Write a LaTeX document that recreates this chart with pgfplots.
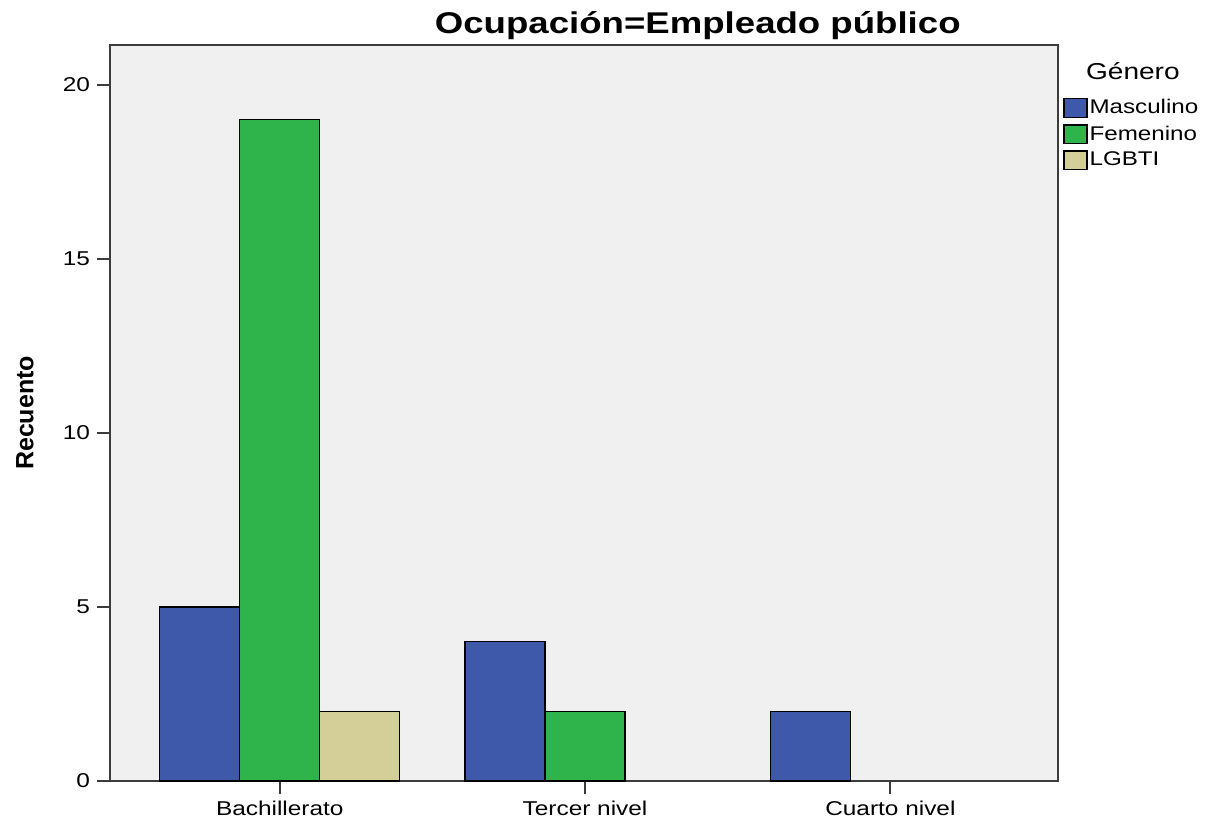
\documentclass[border=0pt]{standalone}
\usepackage{fontspec}
\setmainfont{Liberation Sans}[FakeStretch=1.22]
\newfontfamily\plainsans{Liberation Sans}
\usepackage{pgfplots}
\pgfplotsset{compat=1.18}
\definecolor{masc}{RGB}{62,88,170}
\definecolor{fem}{RGB}{46,180,74}
\definecolor{lgbt}{RGB}{212,206,152}
\definecolor{bg}{RGB}{240,240,240}
\definecolor{frame}{RGB}{60,60,60}
\begin{document}
\begin{tikzpicture}
\path[use as bounding box] (0,0) rectangle (610.5pt,411.5pt);
\begin{axis}[
  at={(55pt,21pt)}, anchor=south west,
  width=474pt, height=368pt, scale only axis,
  clip=false,
  xmin=-0.556, xmax=2.549, ymin=0, ymax=21.15,
  axis background/.style={fill=bg},
  axis line style={frame, line width=0.9pt},
  xtick={0,1,2}, xticklabels={Bachillerato,Tercer nivel,Cuarto nivel},
  ytick={0,5,10,15,20},
  xtick pos=bottom, ytick pos=left,
  tick align=outside, major tick length=6.5pt,
  tick style={frame, line width=0.9pt},
  /pgf/number format/assume math mode=true,
  tick label style={font=\fontsize{10}{11}\selectfont},
  title={Ocupación=Empleado público},
  title style={at={(0.62,1)}, anchor=base, yshift=-0.5pt, font=\fontsize{15}{17}\selectfont\bfseries},
  ylabel={Recuento},
  ylabel style={at={(axis description cs:-0.0897,0.5)}, anchor=center, font=\plainsans\fontsize{12.5}{14}\selectfont\bfseries},
  legend style={at={(1,1)}, anchor=north west, xshift=2.5pt, yshift=-26pt, draw=none, fill=none,
    font=\fontsize{9.9}{10}\selectfont, inner sep=0pt, row sep=2.5pt,
    nodes={inner sep=1pt, xshift=1pt}},
  legend cell align=left,
  legend image code/.code={\draw[#1, draw=black, line width=0.6pt] (-1pt,-4.7pt) rectangle (10.5pt,4.7pt);},
]
\addplot[ybar, bar width=0.262, bar shift=-0.262, fill=masc, draw=black, line width=0.6pt]
  coordinates {(0,5) (1,4) (2,2)};
\addlegendentry{Masculino}
\addplot[ybar, bar width=0.262, bar shift=0, fill=fem, draw=black, line width=0.6pt]
  coordinates {(0,19) (1,2)};
\addlegendentry{Femenino}
\addplot[ybar, bar width=0.262, bar shift=0.262, fill=lgbt, draw=black, line width=0.6pt]
  coordinates {(0,2)};
\addlegendentry{LGBTI}
\node[anchor=center, font=\fontsize{11.5}{13}\selectfont] at (rel axis cs:1.079,0.965) {Género};
\end{axis}
\end{tikzpicture}
\end{document}
